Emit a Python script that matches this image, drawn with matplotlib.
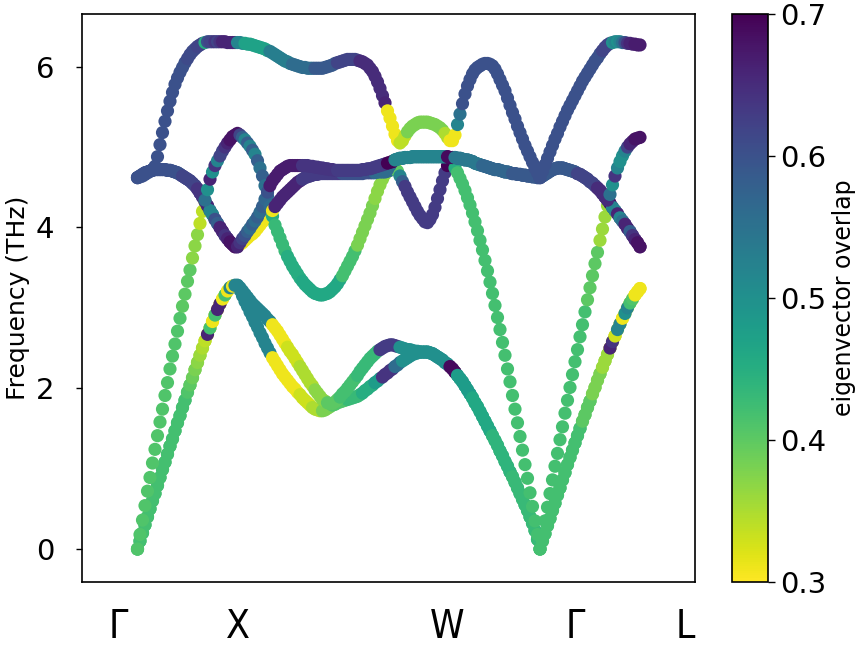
import numpy as np
import matplotlib
matplotlib.use("Agg")
import matplotlib.pyplot as plt

# ---------------- data ----------------
# path coordinate: Gamma(0) - X(100) - ... - Gamma(402.5) - L(502.5), step 2.5
q = np.arange(202) * 2.5

tick_labels = ["Γ", "X", "W", "Γ", "L"]
tick_positions = [-19.5, 100.5, 309.5, 437.5, 547.5]

ta_gx = [0.00,0.10,0.20,0.30,0.40,0.50,0.60,0.69,0.79,0.89,0.99,1.08,1.18,1.28,1.37,1.47,1.57,1.66,1.76,1.85,
         1.95,2.04,2.13,2.23,2.32,2.41,2.50,2.59,2.67,2.75,2.83,2.91,2.98,3.05,3.11,3.16,3.21,3.25,3.27,3.28]
ta_gl = [0.00,0.10,0.19,0.29,0.38,0.48,0.57,0.67,0.76,0.86,0.95,1.05,1.14,1.23,1.32,1.41,1.50,1.59,1.67,1.76,
         1.84,1.93,2.01,2.10,2.18,2.26,2.34,2.42,2.50,2.58,2.65,2.73,2.80,2.87,2.93,3.00,3.06,3.11,3.16,3.20,3.24]

band1_xg = [3.28,3.22,3.15,3.08,3.02,2.95,2.89,2.82,2.76,2.69,
            2.63,2.56,2.50,2.44,2.38,2.33,2.28,2.23,2.18,2.14,
            2.10,2.06,2.02,1.99,1.95,1.92,1.88,1.85,1.82,1.79,
            1.76,1.74,1.73,1.72,1.72,1.73,1.75,1.77,1.79,1.80,
            1.82,1.83,1.84,1.85,1.86,1.87,1.88,1.89,1.90,1.92,
            1.94,1.97,1.99,2.02,2.04,2.07,2.09,2.12,2.14,2.17,
            2.19,2.22,2.24,2.27,2.29,2.32,2.34,2.36,2.38,2.40,
            2.42,2.43,2.44,2.45,2.45,2.45,2.45,2.44,2.43,2.41,
            2.39,2.37,2.35,2.32,2.30,2.27,2.24,2.20,2.16,2.12,
            2.08,2.03,1.98,1.93,1.88,1.82,1.77,1.71,1.65,1.59,
            1.53,1.47,1.41,1.35,1.29,1.22,1.16,1.09,1.03,0.96,
            0.90,0.83,0.76,0.69,0.62,0.55,0.48,0.40,0.32,0.23,
            0.12]
band2_xg = [3.28,3.25,3.21,3.17,3.13,3.09,3.05,3.02,2.99,2.96,
            2.93,2.90,2.86,2.83,2.79,2.75,2.71,2.66,2.61,2.56,
            2.51,2.46,2.42,2.37,2.32,2.27,2.22,2.17,2.12,2.07,
            2.03,1.98,1.94,1.90,1.86,1.84,1.82,1.81,1.81,1.83,
            1.86,1.89,1.93,1.96,2.00,2.04,2.08,2.12,2.16,2.21,
            2.25,2.29,2.33,2.37,2.40,2.43,2.46,2.48,2.50,2.52,
            2.53,2.54,2.54,2.53,2.52,2.51,2.50,2.49,2.48,2.48,
            2.47,2.46,2.46,2.45,2.45,2.45,2.45,2.44,2.43,2.41,
            2.39,2.37,2.35,2.32,2.30,2.27,2.24,2.20,2.16,2.12,
            2.08,2.03,1.98,1.93,1.88,1.82,1.77,1.71,1.65,1.59,
            1.53,1.47,1.41,1.35,1.29,1.22,1.16,1.09,1.03,0.96,
            0.90,0.83,0.76,0.69,0.62,0.55,0.48,0.40,0.32,0.23,
            0.12]

band3_gx = [0.00,0.18,0.36,0.54,0.72,0.89,1.07,1.24,1.41,1.58,1.74,1.91,2.07,2.24,2.40,2.55,2.71,2.87,3.02,3.17,
            3.33,3.47,3.62,3.77,3.91,4.05,4.20,4.32,4.27,4.21,4.16,4.10,4.05,4.00,3.95,3.90,3.86,3.82,3.79,3.76]
band3_xg = [3.76,3.79,3.81,3.84,3.87,3.90,3.92,3.95,3.99,4.03,
            4.07,4.10,4.13,4.17,4.14,4.03,3.95,3.87,3.79,3.71,
            3.64,3.58,3.52,3.47,3.42,3.37,3.33,3.29,3.26,3.23,
            3.20,3.18,3.17,3.16,3.16,3.17,3.18,3.20,3.23,3.26,
            3.30,3.35,3.40,3.46,3.52,3.58,3.64,3.71,3.78,3.86,
            3.94,4.02,4.10,4.18,4.27,4.36,4.45,4.53,4.60,4.66,
            4.70,4.71,4.73,4.74,4.70,4.64,4.57,4.51,4.44,4.38,
            4.32,4.26,4.20,4.15,4.11,4.07,4.06,4.10,4.16,4.25,
            4.36,4.47,4.58,4.68,4.77,4.82,4.79,4.74,4.68,4.61,
            4.54,4.46,4.37,4.28,4.18,4.07,3.96,3.84,3.72,3.59,
            3.46,3.32,3.18,3.03,2.88,2.73,2.57,2.41,2.24,2.08,
            1.91,1.74,1.57,1.40,1.23,1.05,0.88,0.70,0.53,0.35,
            0.18]
band3_gl = [0.00,0.17,0.35,0.52,0.69,0.86,1.03,1.19,1.36,1.52,1.69,1.85,2.01,2.17,2.33,2.48,2.64,2.79,2.95,3.10,
            3.25,3.40,3.55,3.69,3.84,3.98,4.13,4.27,4.30,4.25,4.21,4.17,4.12,4.08,4.04,3.99,3.95,3.90,3.85,3.81,3.76]

to_gx = [4.62,4.64,4.66,4.68,4.69,4.70,4.71,4.72,4.72,4.72,4.72,4.72,4.71,4.71,4.70,4.69,4.68,4.66,4.64,4.62,
         4.60,4.58,4.55,4.52,4.48,4.43,4.38,4.32,4.27,4.21,4.16,4.10,4.05,4.00,3.95,3.90,3.86,3.82,3.79,3.76]
to_gl = [4.62,4.64,4.66,4.68,4.70,4.72,4.73,4.74,4.74,4.74,4.73,4.72,4.71,4.70,4.69,4.67,4.66,4.64,4.62,4.60,
         4.57,4.55,4.52,4.49,4.46,4.42,4.38,4.34,4.30,4.25,4.21,4.17,4.12,4.08,4.04,3.99,3.95,3.90,3.85,3.81,3.76]
flat_wg = [4.88,4.88,4.88,4.88,4.88,4.88,4.88,4.88,4.88,4.88,
           4.88,4.88,4.88,4.88,4.88,4.87,4.87,4.87,4.86,4.86,
           4.85,4.84,4.84,4.83,4.82,4.80,4.79,4.78,4.77,4.76,
           4.75,4.74,4.73,4.72,4.72,4.71,4.70,4.69,4.69,4.68,
           4.67,4.67,4.66,4.66,4.65,4.65,4.64,4.64,4.63,4.63,
           4.62]
band4_xw = [3.76,3.81,3.86,3.90,3.95,3.99,4.04,4.08,4.13,4.19,
            4.26,4.35,4.39,4.26,4.21,4.26,4.30,4.34,4.38,4.41,
            4.44,4.47,4.50,4.53,4.56,4.58,4.60,4.62,4.63,4.64,
            4.65,4.66,4.66,4.67,4.67,4.67,4.67,4.67,4.67,4.67,
            4.67,4.67,4.67,4.67,4.67,4.67,4.67,4.67,4.67,4.67,
            4.67,4.68,4.68,4.68,4.68,4.68,4.69,4.69,4.69,4.69,
            4.72,4.77,4.82,4.84,4.85,4.86,4.86,4.87,4.87,4.87]
band5_gx = [4.62,4.64,4.66,4.68,4.69,4.70,4.71,4.72,4.72,4.72,4.72,4.72,4.71,4.71,4.70,4.69,4.68,4.66,4.64,4.62,
            4.60,4.58,4.55,4.52,4.48,4.43,4.38,4.34,4.47,4.60,4.69,4.77,4.83,4.89,4.95,5.00,5.05,5.09,5.13,5.15]
band5_xw = [5.17,5.15,5.12,5.09,5.05,5.01,4.96,4.91,4.83,4.74,
            4.64,4.52,4.44,4.52,4.58,4.62,4.66,4.70,4.72,4.74,
            4.76,4.77,4.77,4.77,4.77,4.77,4.77,4.77,4.77,4.76,
            4.76,4.75,4.75,4.74,4.74,4.73,4.73,4.72,4.72,4.71,
            4.71,4.71,4.71,4.71,4.71,4.71,4.71,4.71,4.71,4.71,
            4.72,4.72,4.73,4.73,4.74,4.75,4.76,4.77,4.78,4.79,
            4.80,4.81,4.82,4.84,4.85,4.86,4.86,4.87,4.87,4.87]
band5_gl = [4.62,4.64,4.66,4.68,4.70,4.72,4.73,4.74,4.74,4.74,4.73,4.72,4.71,4.70,4.69,4.67,4.66,4.64,4.62,4.60,
            4.57,4.55,4.52,4.49,4.46,4.42,4.38,4.34,4.41,4.53,4.64,4.74,4.82,4.89,4.95,5.00,5.04,5.07,5.10,5.11,5.12]

band6_gx = [4.62,4.63,4.64,4.66,4.68,4.70,4.72,4.76,4.88,5.03,5.18,5.32,5.45,5.57,5.68,5.78,5.86,5.93,5.99,6.05,
            6.10,6.15,6.19,6.22,6.25,6.27,6.29,6.30,6.31,6.31,6.31,6.31,6.31,6.31,6.31,6.31,6.30,6.30,6.30,6.30]
band6_xg = [6.30,6.30,6.29,6.29,6.28,6.28,6.27,6.26,6.25,6.24,
            6.23,6.22,6.20,6.19,6.17,6.15,6.13,6.11,6.09,6.07,
            6.06,6.04,6.03,6.02,6.01,6.00,5.99,5.99,5.98,5.98,
            5.98,5.98,5.98,5.98,5.98,5.99,6.00,6.01,6.02,6.04,
            6.05,6.06,6.07,6.08,6.09,6.09,6.09,6.09,6.08,6.07,
            6.06,6.04,6.02,5.98,5.94,5.88,5.81,5.73,5.64,5.55,
            5.45,5.36,5.26,5.16,5.08,5.05,5.08,5.14,5.19,5.23,
            5.26,5.28,5.30,5.31,5.31,5.31,5.31,5.30,5.29,5.28,
            5.26,5.24,5.21,5.17,5.12,5.08,5.08,5.15,5.28,5.41,
            5.54,5.66,5.76,5.84,5.91,5.96,5.99,6.01,6.03,6.04,
            6.04,6.03,6.01,5.97,5.91,5.84,5.77,5.70,5.61,5.52,
            5.43,5.35,5.26,5.18,5.10,5.02,4.95,4.88,4.81,4.74,
            4.68]
band6_gl = [4.62,4.70,4.78,4.86,4.94,5.02,5.10,5.17,5.25,5.32,5.39,5.46,5.52,5.58,5.64,5.70,5.76,5.82,5.87,5.92,
            5.97,6.02,6.07,6.11,6.16,6.20,6.24,6.27,6.29,6.30,6.31,6.31,6.31,6.30,6.30,6.29,6.29,6.28,6.28,6.27,6.27]

band1 = ta_gx + band1_xg + ta_gl
band2 = ta_gx + band2_xg + ta_gl
band3 = band3_gx + band3_xg + band3_gl
band4 = to_gx + band4_xw + flat_wg + to_gl
band5 = band5_gx + band5_xw + flat_wg + band5_gl
band6 = band6_gx + band6_xg + band6_gl

# eigenvector overlap along each band
overlap1 = ([0.42]*20 + [0.41,0.40,0.39,0.38,0.37,0.36,0.35,0.34,0.33] + [0.31]*9 + [0.52]*2
            + [0.52]*14 + [0.31]*11 + [0.33]*5 + [0.35]*4 + [0.38]*4 + [0.41]*6 + [0.43]*6 + [0.45]*5
            + [0.48]*3 + [0.64]*5 + [0.56]*3 + [0.50]*19 + [0.69]*3 + [0.48]*6 + [0.46]*8 + [0.44]*8 + [0.43]*11
            + [0.42]*17 + [0.40]*4 + [0.38]*4 + [0.36]*3 + [0.33]*3 + [0.31]*10)
overlap2 = ([0.42]*20 + [0.41,0.40,0.39,0.38,0.37,0.36,0.35,0.34]
            + [0.66,0.42,0.31,0.42,0.66,0.66,0.31,0.42,0.31,0.52,0.31,0.52]
            + [0.52]*14 + [0.31]*6 + [0.33]*5 + [0.35]*6 + [0.37]*5 + [0.40]*5 + [0.42]*7 + [0.43]*9
            + [0.63]*8 + [0.50]*20 + [0.69]*3 + [0.48]*6 + [0.46]*8 + [0.44]*8 + [0.43]*11
            + [0.42]*17 + [0.40]*4 + [0.38]*4 + [0.36]*3
            + [0.66,0.64,0.33,0.52,0.52,0.31,0.50,0.52,0.42,0.41,0.31,0.31,0.31])
overlap3 = ([0.41]*18 + [0.40]*4 + [0.37]*3 + [0.34]*3
            + [0.64,0.64,0.55,0.64,0.58,0.66,0.66,0.62,0.66,0.66,0.68,0.68]
            + [0.66] + [0.31]*13 + [0.45] + [0.43]*5 + [0.45]*6 + [0.46]*16 + [0.42]*6 + [0.38]*7
            + [0.37]*5 + [0.55]*3 + [0.31,0.40,0.52,0.58] + [0.63]*17 + [0.70]*3 + [0.45] + [0.42]*33
            + [0.42]*19 + [0.40]*5 + [0.36]*4
            + [0.66,0.64,0.62,0.64,0.66,0.64,0.62,0.64,0.66,0.66,0.66,0.68,0.68])
overlap4 = ([0.60]*18 + [0.62]*6 + [0.64]*4
            + [0.66,0.52,0.52,0.60,0.58,0.66,0.66,0.64,0.66,0.68,0.68,0.68]
            + [0.66] + [0.64,0.62,0.60,0.58,0.56,0.58,0.56,0.58,0.56,0.58] + [0.57]*2 + [0.56, 0.31]
            + [0.66]*11 + [0.63]*16 + [0.60]*13 + [0.56]*7 + [0.70] + [0.52]*21 + [0.69]*3
            + [0.54]*11 + [0.57]*12 + [0.59]*11
            + [0.60] + [0.59]*14 + [0.62]*8 + [0.65]*5
            + [0.68,0.52,0.52,0.66,0.52,0.55,0.66,0.66,0.58,0.64,0.66,0.68,0.68])
overlap5 = ([0.60]*18 + [0.62]*6 + [0.64]*3
            + [0.55,0.50,0.66,0.50,0.64,0.52,0.62,0.62,0.64,0.66,0.68,0.68,0.68]
            + [0.68] + [0.62,0.58,0.52,0.58,0.52,0.58,0.52,0.58,0.55,0.58,0.55] + [0.60]
            + [0.67]*13 + [0.64]*14 + [0.63]*20 + [0.70]*3 + [0.52]*21 + [0.69]*3
            + [0.54]*11 + [0.57]*12 + [0.59]*11
            + [0.60] + [0.59]*14 + [0.62]*8 + [0.65]*5
            + [0.55,0.50,0.64,0.52,0.50,0.50,0.52,0.62,0.66,0.66,0.68,0.68,0.68])
overlap6 = ([0.60]*20 + [0.61]*4 + [0.62]*3
            + [0.45,0.60,0.62,0.62,0.64,0.62,0.64,0.66,0.66,0.66,0.66,0.66,0.66]
            + [0.52]*3 + [0.47]*10 + [0.53]*9 + [0.56]*9 + [0.59]*9 + [0.62]*9 + [0.65]*10 + [0.66]
            + [0.31]*5 + [0.34]*3 + [0.38]*15 + [0.35]*2 + [0.31]*3 + [0.52, 0.55] + [0.60]*31
            + [0.60]*25 + [0.62]*3
            + [0.62,0.50,0.52,0.50,0.52,0.55,0.60,0.64,0.66,0.66,0.67,0.67,0.67])

bands = [band1, band2, band3, band4, band5, band6]
overlaps = [overlap1, overlap2, overlap3, overlap4, overlap5, overlap6]
for b, o in zip(bands, overlaps):
    assert len(b) == len(q) and len(o) == len(q), (len(b), len(o))

# ---------------- plot ----------------
fig = plt.figure(figsize=(8.58, 6.5), dpi=100)
ax = fig.add_axes([82/858, 68/650, 613/858, 568/650])
cax = fig.add_axes([732/858, 68/650, 36/858, 568/650])

x_all = np.concatenate([q] * len(bands))
y_all = np.concatenate([np.asarray(b) for b in bands])
c_all = np.concatenate([np.asarray(o) for o in overlaps])
sc = ax.scatter(x_all, y_all, c=c_all, cmap="viridis_r", vmin=0.3, vmax=0.7,
                s=90, linewidths=0)

ax.set_xlim(-55.5, 557.5)
ax.set_ylim(-0.41, 6.655)
ax.set_yticks([0, 2, 4, 6])
ax.tick_params(axis="y", labelsize=21, length=4, width=1, pad=16)
ax.set_xticks(tick_positions)
ax.set_xticklabels(tick_labels, fontsize=28, family="DejaVu Sans", stretch="condensed")
ax.tick_params(axis="x", length=0, pad=19)
ax.set_ylabel("Frequency (THz)", fontsize=18, labelpad=4)
for sp in ax.spines.values():
    sp.set_linewidth(1.2)

cb = fig.colorbar(sc, cax=cax, ticks=[0.3, 0.4, 0.5, 0.6, 0.7])
cb.ax.tick_params(labelsize=21, length=5, width=1)
cb.set_label("eigenvector overlap", fontsize=17, labelpad=4)
cb.outline.set_linewidth(1.2)

fig.savefig("out.png", dpi=100)
